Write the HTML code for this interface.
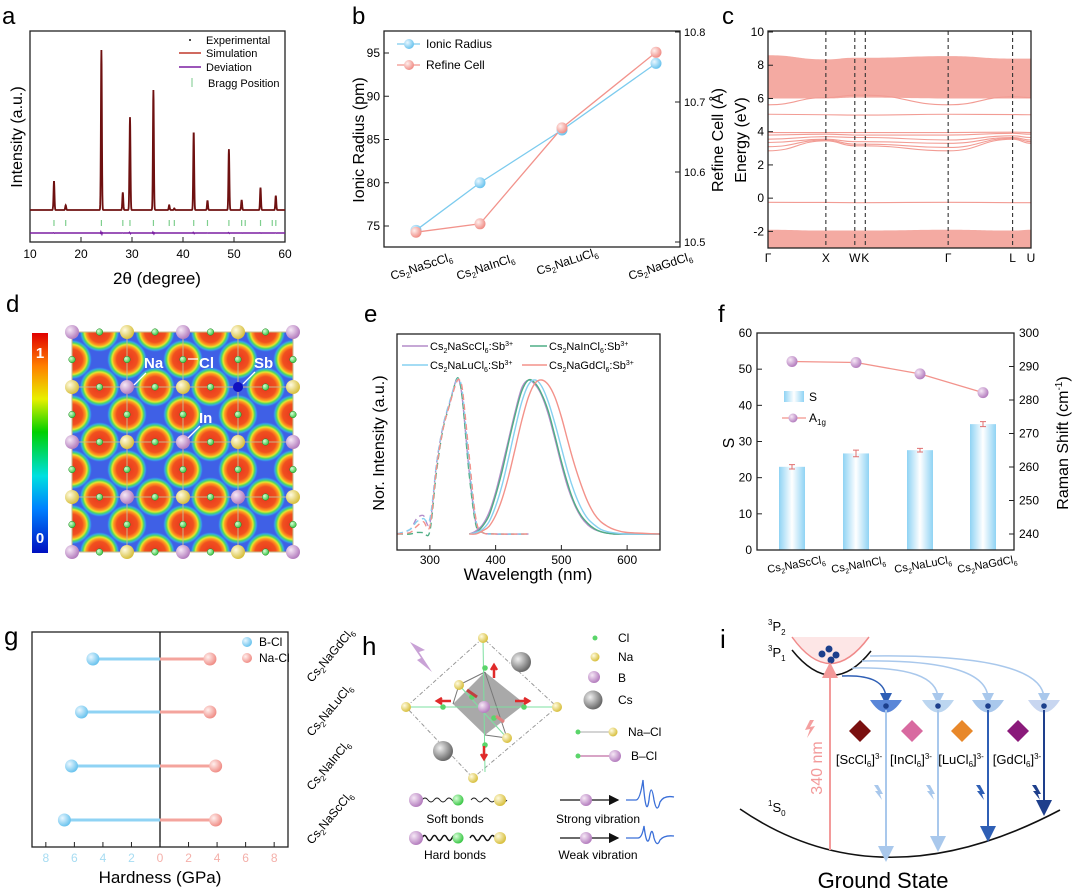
<!DOCTYPE html>
<html><head><meta charset="utf-8"><style>
html,body{margin:0;padding:0;background:#fff;}
svg{display:block;font-family:"Liberation Sans",Arial,sans-serif;}
</style></head><body>
<svg id="fig" xmlns="http://www.w3.org/2000/svg" width="1080" height="890" viewBox="0 0 1080 890">
<defs>
<radialGradient id="gBlue" cx="35%" cy="35%" r="65%"><stop offset="0" stop-color="#eaf7ff"/><stop offset="1" stop-color="#6cc4ee"/></radialGradient>
<radialGradient id="gPink" cx="35%" cy="35%" r="65%"><stop offset="0" stop-color="#fff0ee"/><stop offset="1" stop-color="#f08f88"/></radialGradient>
<radialGradient id="gPurp" cx="35%" cy="35%" r="65%"><stop offset="0" stop-color="#f6e8f6"/><stop offset="1" stop-color="#b57fbf"/></radialGradient>
<radialGradient id="gYel" cx="35%" cy="35%" r="65%"><stop offset="0" stop-color="#fffbe0"/><stop offset="1" stop-color="#d8c040"/></radialGradient>
<radialGradient id="gGrn" cx="35%" cy="35%" r="65%"><stop offset="0" stop-color="#d8ffd8"/><stop offset="1" stop-color="#3fc84a"/></radialGradient>
<radialGradient id="gGray" cx="35%" cy="35%" r="65%"><stop offset="0" stop-color="#f0f0f0"/><stop offset="1" stop-color="#6a6a6a"/></radialGradient>
<radialGradient id="gElf"><stop offset="0" stop-color="#e8351f"/><stop offset="0.45" stop-color="#f0501f"/><stop offset="0.58" stop-color="#ff9a20"/><stop offset="0.65" stop-color="#e0e830"/><stop offset="0.72" stop-color="#50d860"/><stop offset="0.8" stop-color="#30c8e8" stop-opacity="0.6"/><stop offset="0.88" stop-color="#3f60e6" stop-opacity="0"/></radialGradient>
<linearGradient id="cbar" x1="0" y1="1" x2="0" y2="0"><stop offset="0" stop-color="#0010c0"/><stop offset="0.2" stop-color="#0080ff"/><stop offset="0.35" stop-color="#00e0e0"/><stop offset="0.55" stop-color="#00d000"/><stop offset="0.7" stop-color="#e8f000"/><stop offset="0.85" stop-color="#ff8000"/><stop offset="1" stop-color="#e00000"/></linearGradient>
<linearGradient id="barG" x1="0" y1="0" x2="1" y2="0"><stop offset="0" stop-color="#8fd3f4"/><stop offset="0.5" stop-color="#ffffff"/><stop offset="1" stop-color="#8fd3f4"/></linearGradient>
<marker id="arB" markerWidth="8" markerHeight="8" refX="4" refY="4" orient="auto"><path d="M0,0 L8,4 L0,8 z" fill="context-stroke"/></marker>
<marker id="arK" markerWidth="8" markerHeight="8" refX="7" refY="4" orient="auto"><path d="M0,0 L8,4 L0,8 z" fill="#111"/></marker>
<clipPath id="clipC"><rect x="768" y="31" width="263" height="217"/></clipPath>
<clipPath id="clipD"><rect x="72" y="332" width="221" height="220"/></clipPath>
<clipPath id="clipE"><rect x="397" y="334" width="263" height="216"/></clipPath>
</defs>

<!-- ===== Panel a ===== -->
<g>
<text x="2" y="24" font-size="24">a</text>
<rect x="30" y="31" width="255" height="211" fill="none" stroke="#222" stroke-width="1.3"/>
<g id="aTicks"></g>
<text x="157" y="284" font-size="17" text-anchor="middle">2θ  (degree)</text>
<text transform="translate(22,137) rotate(-90)" font-size="16" text-anchor="middle">Intensity (a.u.)</text>
<g id="aPlot"></g>
<g font-size="11">
<circle cx="190" cy="40" r="1" fill="#111"/><text x="206" y="44">Experimental</text>
<line x1="179" y1="53" x2="201" y2="53" stroke="#c0392b" stroke-width="1.5"/><text x="206" y="57">Simulation</text>
<line x1="179" y1="67" x2="201" y2="67" stroke="#7b1fa2" stroke-width="1.5"/><text x="206" y="71">Deviation</text>
<line x1="192" y1="78" x2="192" y2="87" stroke="#8fd19e" stroke-width="1.2"/><text x="208" y="87">Bragg Position</text>
</g>
</g>

<!-- ===== Panel b ===== -->
<g>
<text x="352" y="24" font-size="24">b</text>
<rect x="384" y="31" width="296" height="216" fill="none" stroke="#222" stroke-width="1.3"/>
<g id="bAxes"></g>
<g id="bPlot"></g>
<text transform="translate(364,140) rotate(-90)" font-size="16" text-anchor="middle">Ionic Radius (pm)</text>
<text transform="translate(723,140) rotate(-90)" font-size="16" text-anchor="middle">Refine Cell (Å)</text>
<g font-size="12">
<line x1="397" y1="44" x2="420" y2="44" stroke="#7ccbee" stroke-width="1.3"/><circle cx="409" cy="44" r="5" fill="url(#gBlue)"/><text x="426" y="48">Ionic Radius</text>
<line x1="397" y1="65" x2="420" y2="65" stroke="#f2938c" stroke-width="1.3"/><circle cx="409" cy="65" r="5" fill="url(#gPink)"/><text x="426" y="69">Refine Cell</text>
</g>
</g>

<!-- ===== Panel c ===== -->
<g>
<text x="722" y="24" font-size="24">c</text>
<g id="cPlot" clip-path="url(#clipC)"></g>
<g id="cAxes"></g>
<rect x="768" y="31" width="263" height="217" fill="none" stroke="#222" stroke-width="1.3"/>
<text transform="translate(746,140) rotate(-90)" font-size="16" text-anchor="middle">Energy (eV)</text>
</g>

<!-- ===== Panel d ===== -->
<g>
<text x="6" y="312" font-size="24">d</text>
<rect x="32" y="333" width="16" height="220" fill="url(#cbar)"/>
<text x="40" y="358" font-size="15" font-weight="bold" fill="#fff" text-anchor="middle">1</text>
<text x="40" y="543" font-size="15" font-weight="bold" fill="#fff" text-anchor="middle">0</text>
<g id="dMap"></g>
</g>

<!-- ===== Panel e ===== -->
<g>
<text x="364" y="322" font-size="24">e</text>
<g id="ePlot" clip-path="url(#clipE)"></g>
<rect x="397" y="334" width="263" height="216" fill="none" stroke="#222" stroke-width="1.3"/>
<g id="eAxes"></g>
<text x="528" y="580" font-size="17" text-anchor="middle">Wavelength (nm)</text>
<text transform="translate(384,443) rotate(-90)" font-size="16" text-anchor="middle">Nor. Intensity (a.u.)</text>
<g font-size="11">
<line x1="402" y1="346" x2="428" y2="346" stroke="#b48cc9" stroke-width="1.5"/>
<text x="430" y="350">Cs<tspan font-size="7" dy="3">2</tspan><tspan dy="-3">NaScCl</tspan><tspan font-size="7" dy="3">6</tspan><tspan dy="-3">:Sb</tspan><tspan font-size="7" dy="-4">3+</tspan></text>
<line x1="530" y1="346" x2="547" y2="346" stroke="#4fae85" stroke-width="1.5"/>
<text x="549" y="350">Cs<tspan font-size="7" dy="3">2</tspan><tspan dy="-3">NaInCl</tspan><tspan font-size="7" dy="3">6</tspan><tspan dy="-3">:Sb</tspan><tspan font-size="7" dy="-4">3+</tspan></text>
<line x1="402" y1="365" x2="428" y2="365" stroke="#86d0f0" stroke-width="1.5"/>
<text x="430" y="369">Cs<tspan font-size="7" dy="3">2</tspan><tspan dy="-3">NaLuCl</tspan><tspan font-size="7" dy="3">6</tspan><tspan dy="-3">:Sb</tspan><tspan font-size="7" dy="-4">3+</tspan></text>
<line x1="522" y1="365" x2="547" y2="365" stroke="#f3928a" stroke-width="1.5"/>
<text x="549" y="369">Cs<tspan font-size="7" dy="3">2</tspan><tspan dy="-3">NaGdCl</tspan><tspan font-size="7" dy="3">6</tspan><tspan dy="-3">:Sb</tspan><tspan font-size="7" dy="-4">3+</tspan></text>
</g>
</g>

<!-- ===== Panel f ===== -->
<g>
<text x="718" y="322" font-size="24">f</text>
<g id="fPlot"></g>
<g id="fAxes"></g>
<text transform="translate(734,443) rotate(-90)" font-size="16" text-anchor="middle">S</text>
<text transform="translate(1068,443) rotate(-90)" font-size="16" text-anchor="middle">Raman Shift (cm<tspan font-size="10" dy="-6">-1</tspan><tspan dy="6">)</tspan></text>
<g font-size="12">
<rect x="784" y="391" width="20" height="11" fill="url(#barG)"/><text x="809" y="401">S</text>
<line x1="782" y1="418" x2="806" y2="418" stroke="#f2938c" stroke-width="1.2"/><circle cx="793" cy="418" r="4.5" fill="url(#gPurp)"/><text x="809" y="422">A<tspan font-size="8" dy="3">1g</tspan></text>
</g>
</g>

<!-- ===== Panel g ===== -->
<g>
<text x="4" y="645" font-size="26">g</text>
<rect x="32" y="632" width="256" height="215" fill="none" stroke="#222" stroke-width="1.3"/>
<g id="gAxes"></g>
<g id="gPlot"></g>
<text x="160" y="883" font-size="17" text-anchor="middle">Hardness (GPa)</text>
<g font-size="12">
<circle cx="247" cy="642" r="5" fill="url(#gBlue)"/><text x="259" y="646">B-Cl</text>
<circle cx="247" cy="658" r="5" fill="url(#gPink)"/><text x="259" y="662">Na-Cl</text>
</g>
</g>

<!-- ===== Panel h ===== -->
<g>
<text x="362" y="655" font-size="26">h</text>
<path d="M410,642 L425,650 L419,652 L432,672 L417,660 L421,658 Z" fill="#c9a2d6"/>
<g stroke-width="1">
<path d="M483,638 L406,707 L473,778 L557,707 Z" fill="none" stroke="#999" stroke-dasharray="4 2 1 2"/>
<path d="M453,704 L485,672 L525,704 L485,735 Z" fill="#8c8c8c" opacity="0.75"/>
<path d="M485,672 L459,685 L453,704 M485,672 L507,738 L485,735" fill="none" stroke="#777"/>
<line x1="483" y1="638" x2="485" y2="772" stroke="#7de0a0"/>
<line x1="406" y1="707" x2="557" y2="707" stroke="#7de0a0"/>
<line x1="459" y1="685" x2="507" y2="738" stroke="#7de0a0"/>
<circle cx="485" cy="668" r="2.8" fill="#5ad56a"/><circle cx="443" cy="707" r="2.8" fill="#5ad56a"/><circle cx="524" cy="707" r="2.8" fill="#5ad56a"/><circle cx="485" cy="745" r="2.8" fill="#5ad56a"/><circle cx="472" cy="697" r="2.8" fill="#5ad56a"/><circle cx="494" cy="718" r="2.8" fill="#5ad56a"/>
<circle cx="484" cy="707" r="6" fill="url(#gPurp)"/>
<circle cx="483" cy="638" r="5" fill="url(#gYel)"/><circle cx="406" cy="707" r="5" fill="url(#gYel)"/><circle cx="557" cy="707" r="5" fill="url(#gYel)"/><circle cx="473" cy="778" r="5" fill="url(#gYel)"/><circle cx="459" cy="685" r="5" fill="url(#gYel)"/><circle cx="507" cy="738" r="5" fill="url(#gYel)"/>
<circle cx="521" cy="662" r="10" fill="url(#gGray)"/><circle cx="443" cy="751" r="10" fill="url(#gGray)"/>
<path d="M494,678 l0,-12 m-3,4 l3,-5 l3,5" stroke="#e02a2a" stroke-width="2.5" fill="none"/>
<path d="M484,746 l0,12 m-3,-4 l3,5 l3,-5" stroke="#e02a2a" stroke-width="2.5" fill="none"/>
<path d="M451,701 l-13,0 m4,-3 l-5,3 l5,3" stroke="#e02a2a" stroke-width="2.5" fill="none"/>
<path d="M515,701 l13,0 m-4,-3 l5,3 l-5,3" stroke="#e02a2a" stroke-width="2.5" fill="none"/>
<path d="M477,697 l-10,-7" stroke="#c04040" stroke-width="3" fill="none"/>
<path d="M496,716 l8,6" stroke="#e08080" stroke-width="3" fill="none"/>
</g>
<g font-size="12">
<circle cx="595" cy="638" r="2.5" fill="#5ad56a"/><text x="618" y="642">Cl</text>
<circle cx="595" cy="657" r="4.5" fill="url(#gYel)"/><text x="618" y="661">Na</text>
<circle cx="594" cy="677" r="6" fill="url(#gPurp)"/><text x="618" y="682">B</text>
<circle cx="593" cy="700" r="9.5" fill="url(#gGray)"/><text x="618" y="704">Cs</text>
<line x1="578" y1="732" x2="613" y2="732" stroke="#aaa"/><circle cx="578" cy="732" r="2.5" fill="#5ad56a"/><circle cx="613" cy="732" r="4.5" fill="url(#gYel)"/><text x="628" y="736">Na–Cl</text>
<line x1="578" y1="756" x2="615" y2="756" stroke="#b24a8c"/><circle cx="578" cy="756" r="2.5" fill="#5ad56a"/><circle cx="615" cy="756" r="6" fill="url(#gPurp)"/><text x="631" y="760">B–Cl</text>
</g>
<g font-size="12">
<path d="M422,800 q3,-4 6,0 t6,0 t6,0 t6,0 t6,0 t6,0 M471,800 q3,-4 6,0 t6,0 t6,0 t6,0 t6,0 t6,0" stroke="#222" fill="none" stroke-width="0.9"/>
<circle cx="416" cy="800" r="7" fill="url(#gPurp)"/><circle cx="458" cy="800" r="5.5" fill="url(#gGrn)"/><circle cx="500" cy="800" r="6" fill="url(#gYel)"/>
<text x="455" y="823" text-anchor="middle">Soft bonds</text>
<path d="M422,838 q2.5,-5 5,0 t5,0 t5,0 t5,0 t5,0 t5,0 t5,0 M470,838 q2.5,-5 5,0 t5,0 t5,0 t5,0 t5,0 t5,0 t5,0" stroke="#111" fill="none" stroke-width="1.4"/>
<circle cx="416" cy="838" r="7" fill="url(#gPurp)"/><circle cx="458" cy="838" r="5.5" fill="url(#gGrn)"/><circle cx="500" cy="838" r="6" fill="url(#gYel)"/>
<text x="455" y="859" text-anchor="middle">Hard bonds</text>
<line x1="560" y1="800" x2="618" y2="800" stroke="#111" stroke-width="1.3" marker-end="url(#arK)"/><circle cx="586" cy="800" r="6" fill="url(#gPurp)"/>
<path d="M626,800 L636,800 Q640,800 643,780 Q646,820 649,800 Q651,780 654,800 Q657,815 660,802 Q664,795 674,797" stroke="#3a6fd8" fill="none" stroke-width="1.3"/>
<text x="598" y="823" text-anchor="middle">Strong vibration</text>
<line x1="560" y1="838" x2="618" y2="838" stroke="#111" stroke-width="1.3" marker-end="url(#arK)"/><circle cx="586" cy="838" r="6" fill="url(#gPurp)"/>
<path d="M626,838 L638,838 Q642,838 644,826 Q647,850 650,836 Q652,826 654,838 Q657,848 660,840 Q664,835 674,836" stroke="#3a6fd8" fill="none" stroke-width="1.3"/>
<text x="598" y="859" text-anchor="middle">Weak vibration</text>
</g>
</g>

<!-- ===== Panel i ===== -->
<g>
<text x="720" y="648" font-size="26">i</text>
<text x="768" y="631" font-size="13"><tspan font-size="8" dy="-6">3</tspan><tspan dy="6">P</tspan><tspan font-size="8" dy="4">2</tspan></text>
<text x="768" y="657" font-size="13"><tspan font-size="8" dy="-6">3</tspan><tspan dy="6">P</tspan><tspan font-size="8" dy="4">1</tspan></text>
<text x="768" y="812" font-size="13"><tspan font-size="8" dy="-6">1</tspan><tspan dy="6">S</tspan><tspan font-size="8" dy="4">0</tspan></text>
<path d="M792,637 Q830,690 869,637 Z" fill="#fbd6d6" opacity="0.6"/>
<path d="M792,637 Q830,690 869,637" fill="none" stroke="#f08a8a" stroke-width="1.5"/>
<path d="M792,650 Q832,700 871,651" fill="none" stroke="#111" stroke-width="1.5"/>
<g fill="#1c3f8c"><circle cx="829" cy="649" r="3.5"/><circle cx="822" cy="654" r="3.5"/><circle cx="836" cy="655" r="3.5"/><circle cx="831" cy="660" r="3.5"/></g>
<path d="M740,809 Q880,905 1060,810" fill="none" stroke="#111" stroke-width="1.6"/>
<line x1="830" y1="850" x2="830" y2="670" stroke="#f39a9a" stroke-width="2" marker-end="url(#arB)"/>
<text transform="translate(822,768) rotate(-90)" font-size="16" fill="#f39a9a" text-anchor="middle">340 nm</text>
<path d="M810,720 l-5,10 l5,-1 l-3,9 l8,-12 l-5,1 l4,-7 z" fill="#f4a0a0"/>
<g id="iTraps"></g>
<text x="883" y="888" font-size="22" text-anchor="middle">Ground State</text>
</g>

<!-- category labels for panel b, f, g -->
<g font-size="11">
<text transform="translate(392,280) rotate(-18)" font-size="12">Cs<tspan font-size="8" dy="3">2</tspan><tspan dy="-3">NaScCl</tspan><tspan font-size="8" dy="3">6</tspan></text>
<text transform="translate(458,280) rotate(-18)" font-size="12">Cs<tspan font-size="8" dy="3">2</tspan><tspan dy="-3">NaInCl</tspan><tspan font-size="8" dy="3">6</tspan></text>
<text transform="translate(538,275) rotate(-18)" font-size="12">Cs<tspan font-size="8" dy="3">2</tspan><tspan dy="-3">NaLuCl</tspan><tspan font-size="8" dy="3">6</tspan></text>
<text transform="translate(630,280) rotate(-18)" font-size="12">Cs<tspan font-size="8" dy="3">2</tspan><tspan dy="-3">NaGdCl</tspan><tspan font-size="8" dy="3">6</tspan></text>
<text transform="translate(768,573) rotate(-10)">Cs<tspan font-size="7" dy="3">2</tspan><tspan dy="-3">NaScCl</tspan><tspan font-size="7" dy="3">6</tspan></text>
<text transform="translate(832,573) rotate(-10)">Cs<tspan font-size="7" dy="3">2</tspan><tspan dy="-3">NaInCl</tspan><tspan font-size="7" dy="3">6</tspan></text>
<text transform="translate(895,573) rotate(-10)">Cs<tspan font-size="7" dy="3">2</tspan><tspan dy="-3">NaLuCl</tspan><tspan font-size="7" dy="3">6</tspan></text>
<text transform="translate(958,573) rotate(-10)">Cs<tspan font-size="7" dy="3">2</tspan><tspan dy="-3">NaGdCl</tspan><tspan font-size="7" dy="3">6</tspan></text>
<text transform="translate(312,683) rotate(-50)" font-size="12">Cs<tspan font-size="8" dy="3">2</tspan><tspan dy="-3">NaGdCl</tspan><tspan font-size="8" dy="3">6</tspan></text>
<text transform="translate(312,737) rotate(-50)" font-size="12">Cs<tspan font-size="8" dy="3">2</tspan><tspan dy="-3">NaLuCl</tspan><tspan font-size="8" dy="3">6</tspan></text>
<text transform="translate(312,791) rotate(-50)" font-size="12">Cs<tspan font-size="8" dy="3">2</tspan><tspan dy="-3">NaInCl</tspan><tspan font-size="8" dy="3">6</tspan></text>
<text transform="translate(312,845) rotate(-50)" font-size="12">Cs<tspan font-size="8" dy="3">2</tspan><tspan dy="-3">NaScCl</tspan><tspan font-size="8" dy="3">6</tspan></text>
</g>
</svg>
<script>
// ---- data ----
const aPeakPos = [14.7,17,24,28.2,29.6,34.2,37.3,38.3,42.1,44.8,49,51.5,55.2,58.2];
const aPeakInt = [18,3,100,11,58,75,3,1,49,6,38,6,14,9];
const aBragg = [14.7,17,24,28.2,29.6,34.2,37.3,38.3,42.1,44.8,49,51.5,52.2,55.2,57.5,58.2];
const aXTicks = [10,20,30,40,50,60];

const bCats = ['Sc','In','Lu','Gd'];
const bIonic = [74.5,80,86.1,93.8];
const bRefine = [10.514,10.526,10.663,10.771];
const bLeftTicks = [75,80,85,90,95];
const bRightTicks = [10.5,10.6,10.7,10.8];

const cKLabels = ['Γ','X','W','K','Γ','L','U'];
const cKPos = [0,0.22,0.33,0.37,0.685,0.93,1.0];
const cYTicks = [-2,0,2,4,6,8,10];
const cBands = [
 [5.62,6.05,6.2,6.2,5.62,6.1,6.05],
 [5.05,5.02,5.0,5.0,5.05,5.03,5.02],
 [2.85,3.45,3.15,3.15,2.85,3.55,3.3],
 [3.1,3.5,3.25,3.25,3.05,3.6,3.4],
 [3.35,3.55,3.4,3.4,3.3,3.65,3.5],
 [3.55,3.7,3.65,3.65,3.5,3.75,3.65],
 [3.8,3.85,3.8,3.8,3.8,3.9,3.85],
 [3.95,3.95,3.95,3.95,3.95,3.97,3.95],
 [-0.25,-0.26,-0.27,-0.27,-0.25,-0.27,-0.27]];
const cCondTop = [8.6,8.35,8.45,8.45,8.55,8.4,8.4];
const cCondBot = [6.0,6.0,6.05,6.05,6.0,6.0,6.0];
const cValTop = [-1.9,-1.95,-1.95,-1.95,-1.9,-1.95,-1.9];

const eWl = [360,370,380,390,400,410,420,430,440,450,460,470,480,490,500,510,520,530,540,550,560,570,580,600,650];
const eEmSc = [0,0.02,0.06,0.14,0.27,0.44,0.62,0.8,0.95,1.0,0.97,0.9,0.78,0.62,0.45,0.3,0.19,0.11,0.06,0.03,0.015,0.005,0,0,0];
const eEmIn = [0,0.01,0.05,0.12,0.25,0.41,0.6,0.78,0.93,1.0,0.98,0.91,0.8,0.64,0.47,0.32,0.2,0.12,0.07,0.035,0.015,0.005,0,0,0];
const eEmLu = [0,0.01,0.03,0.08,0.18,0.32,0.5,0.69,0.86,0.97,1.0,0.96,0.86,0.72,0.56,0.4,0.27,0.17,0.1,0.06,0.03,0.015,0.008,0,0];
const eEmGd = [0,0,0.02,0.05,0.12,0.23,0.38,0.56,0.74,0.89,0.98,1.0,0.97,0.89,0.76,0.6,0.45,0.32,0.21,0.13,0.08,0.05,0.03,0.01,0];
const eExWl = [250,270,280,290,300,310,320,330,340,345,350,360,370,380,400,450];
const eExSc = [0,0.03,0.1,0.12,0.07,0.45,0.7,0.85,1.0,0.99,0.85,0.4,0.07,0.01,0,0];
const eExIn = [0,0.0,0.01,0.01,0.02,0.4,0.68,0.84,1.0,0.99,0.85,0.38,0.06,0.01,0,0];
const eExLu = [0,0.03,0.08,0.1,0.1,0.45,0.7,0.86,0.99,1.0,0.9,0.45,0.09,0.01,0,0];
const eExGd = [0,0.01,0.05,0.08,0.05,0.42,0.68,0.84,0.98,1.0,0.92,0.5,0.1,0.01,0,0];
const eXTicks = [300,400,500,600];

const fS = [23,26.7,27.6,34.8];
const fSErr = [0.6,0.9,0.5,0.7];
const fA1g = [291.5,291.2,287.8,282.2];
const fLeftTicks = [0,10,20,30,40,50,60];
const fRightTicks = [240,250,260,270,280,290,300];

const gBCl = [4.7,5.5,6.2,6.7];
const gNaCl = [3.5,3.5,3.9,3.9];
const gTicks = [8,6,4,2,0,2,4,6,8];

const NS='http://www.w3.org/2000/svg';
function mk(tag, at, parent){const e=document.createElementNS(NS,tag);for(const k in at)e.setAttribute(k,at[k]);(parent||document.getElementById('fig')).appendChild(e);return e;}
function lin(d0,d1,r0,r1){return v=>r0+(v-d0)/(d1-d0)*(r1-r0);}
function smoothPath(pts){let d='M'+pts[0][0]+','+pts[0][1];for(let i=1;i<pts.length;i++){const p0=pts[i-1],p1=pts[i];const mx=(p0[0]+p1[0])/2;d+=' C'+mx+','+p0[1]+' '+mx+','+p1[1]+' '+p1[0]+','+p1[1];}return d;}
function catmull(pts){let d='M'+pts[0][0].toFixed(1)+','+pts[0][1].toFixed(1);for(let i=0;i<pts.length-1;i++){const p0=pts[Math.max(0,i-1)],p1=pts[i],p2=pts[i+1],p3=pts[Math.min(pts.length-1,i+2)];const c1=[p1[0]+(p2[0]-p0[0])/6,p1[1]+(p2[1]-p0[1])/6],c2=[p2[0]-(p3[0]-p1[0])/6,p2[1]-(p3[1]-p1[1])/6];d+=` C${c1[0].toFixed(1)},${c1[1].toFixed(1)} ${c2[0].toFixed(1)},${c2[1].toFixed(1)} ${p2[0].toFixed(1)},${p2[1].toFixed(1)}`;}return d;}

// ---- Panel a ----
(function(){
 const g=document.getElementById('aPlot'), t=document.getElementById('aTicks');
 const X=lin(10,60,30,285), Y=v=>210-v*1.6;
 aXTicks.forEach(v=>{mk('line',{x1:X(v),y1:242,x2:X(v),y2:237,stroke:'#222'},t);const tx=mk('text',{x:X(v),y:258,'font-size':12,'text-anchor':'middle'},t);tx.textContent=v;});
 let pts=[];for(let x=10;x<=60.001;x+=0.04){let s=0;aPeakPos.forEach((p,i)=>{s+=aPeakInt[i]*Math.exp(-Math.pow((x-p)/0.13,2));});pts.push([X(x),Y(s)]);}
 const sim=mk('path',{d:'M'+pts.map(p=>p[0].toFixed(1)+','+p[1].toFixed(1)).join(' L'),fill:'none',stroke:'#6e1010','stroke-width':1.8},g);
 
 
 aBragg.forEach(p=>{const l=mk('line',{x1:X(p),y1:220,x2:X(p),y2:226,stroke:'#7fcf8e','stroke-width':1.2},g);
  
  });
 let dp=[];for(let x=10;x<=60.001;x+=0.1){let s=0;aPeakPos.forEach((p,i)=>{s+=aPeakInt[i]*0.02*Math.sin((x-p)*20)*Math.exp(-Math.pow((x-p)/0.15,2));});dp.push([X(x),233+s]);}
 const dv=mk('path',{d:'M'+dp.map(p=>p[0].toFixed(1)+','+p[1].toFixed(1)).join(' L'),fill:'none',stroke:'#7b1fa2','stroke-width':1.4},g);
 
 
})();

// ---- Panel b ----
(function(){
 const g=document.getElementById('bPlot'), ax=document.getElementById('bAxes');
 const xs=[416,480,562,656];
 const YL=lin(75,95,226,53), YR=lin(10.5,10.8,242,32);
 bLeftTicks.forEach(v=>{mk('line',{x1:384,y1:YL(v),x2:389,y2:YL(v),stroke:'#222'},ax);const t=mk('text',{x:380,y:YL(v)+4,'font-size':12,'text-anchor':'end'},ax);t.textContent=v;});
 bRightTicks.forEach(v=>{mk('line',{x1:680,y1:YR(v),x2:675,y2:YR(v),stroke:'#222'},ax);const t=mk('text',{x:684,y:YR(v)+4,'font-size':11},ax);t.textContent=v.toFixed(1);});
 const l1=mk('polyline',{points:bIonic.map((v,i)=>xs[i]+','+YL(v)).join(' '),fill:'none',stroke:'#7ccbee','stroke-width':1.3},g);
 
 
 const l2=mk('polyline',{points:bRefine.map((v,i)=>xs[i]+','+YR(v)).join(' '),fill:'none',stroke:'#f2938c','stroke-width':1.3},g);
 
 
 bIonic.forEach((v,i)=>{const c=mk('circle',{cx:xs[i],cy:YL(v),r:5.5,fill:'url(#gBlue)'},g);
  
  });
 bRefine.forEach((v,i)=>{const c=mk('circle',{cx:xs[i],cy:YR(v),r:5.5,fill:'url(#gPink)'},g);
  
  });
})();

// ---- Panel c ----
(function(){
 const g=document.getElementById('cPlot'), ax=document.getElementById('cAxes');
 const X=lin(0,1,768,1031), Y=lin(10,-3,32,248);
 cYTicks.forEach(v=>{mk('line',{x1:768,y1:Y(v),x2:773,y2:Y(v),stroke:'#222'},ax);const t=mk('text',{x:764,y:Y(v)+4,'font-size':12,'text-anchor':'end'},ax);t.textContent=v;});
 cKPos.forEach((k,i)=>{const t=mk('text',{x:X(k),y:262,'font-size':12,'text-anchor':'middle'},ax);t.textContent=cKLabels[i];
  if(i>0&&i<cKPos.length-1){const l=mk('line',{x1:X(k),y1:31,x2:X(k),y2:248,stroke:'#333','stroke-dasharray':'4 3','stroke-width':1.1},ax);
   
   }});
 const top=cKPos.map((k,i)=>[X(k),Y(cCondTop[i])]), bot=cKPos.map((k,i)=>[X(k),Y(cCondBot[i])]).reverse();
 const cb=mk('path',{d:smoothPath(top)+' L'+smoothPath(bot).slice(1)+' Z',fill:'#f4aaa2'},g);
 
 
 const vt=cKPos.map((k,i)=>[X(k),Y(cValTop[i])]);
 const vb=mk('path',{d:smoothPath(vt)+' L1031,260 L768,260 Z',fill:'#f4aaa2'},g);
 
 
 cBands.forEach(b=>{const p=mk('path',{d:smoothPath(cKPos.map((k,i)=>[X(k),Y(b[i])])),fill:'none',stroke:'#f29c94','stroke-width':1.1},g);
  
  });
})();

// ---- Panel d ----
(function(){
 const g=document.getElementById('dMap');
 const gx=[72,127,183,238,293], gy=[332,387,442,497,552];
 const inner=mk('g',{'clip-path':'url(#clipD)'},g);
 const bg=mk('rect',{x:72,y:332,width:221,height:220,fill:'#3f60e6'},inner);
 
 
 const cl=[];
 for(let j=0;j<5;j++)for(let i=0;i<4;i++){cl.push([(gx[i]+gx[i+1])/2,gy[j]]);}
 for(let j=0;j<4;j++)for(let i=0;i<5;i++){cl.push([gx[i],(gy[j]+gy[j+1])/2]);}
 cl.forEach(p=>{const e=mk('ellipse',{cx:p[0],cy:p[1],rx:23,ry:23,fill:'url(#gElf)'},inner);
  
  });
 gx.forEach(x=>mk('line',{x1:x,y1:332,x2:x,y2:552,stroke:'#c8b88a','stroke-width':1},g));
 gy.forEach(y=>mk('line',{x1:72,y1:y,x2:293,y2:y,stroke:'#c8b88a','stroke-width':1},g));
 cl.forEach(p=>{const c=mk('circle',{cx:p[0],cy:p[1],r:3.3,fill:'url(#gGrn)',stroke:'#2a8a2a','stroke-width':0.5},g);
  
  });
 for(let j=0;j<5;j++)for(let i=0;i<5;i++){const sb=(i===3&&j===1);
  const c=mk('circle',{cx:gx[i],cy:gy[j],r:sb?5:7,fill:sb?'#1010c0':((i+j)%2===0?'url(#gPurp)':'url(#gYel)')},g);
  
  }
 const lab=[['Na',144,368],['Cl',199,368],['Sb',254,368],['In',199,423]];
 lab.forEach(l=>{const t=mk('text',{x:l[1],y:l[2],'font-size':15,'font-weight':'bold',fill:'#fff'},g);t.textContent=l[0];
  
  });
 [[134,385,146,373],[188,359,198,359],[243,384,255,372],[188,438,200,426]].forEach(a=>mk('line',{x1:a[0],y1:a[1],x2:a[2],y2:a[3],stroke:'#fff','stroke-width':1.3},g));
})();

// ---- Panel e ----
(function(){
 const g=document.getElementById('ePlot'), ax=document.getElementById('eAxes');
 const X=lin(250,650,397,660), Y=lin(0,1,534,380);
 eXTicks.forEach(v=>{mk('line',{x1:X(v),y1:550,x2:X(v),y2:545,stroke:'#222'},ax);const t=mk('text',{x:X(v),y:564,'font-size':12,'text-anchor':'middle'},ax);t.textContent=v;});
 const cols=['#b48cc9','#4fae85','#86d0f0','#f3928a'];
 [eExSc,eExIn,eExLu,eExGd].forEach((s,k)=>{const p=mk('path',{d:catmull(eExWl.map((w,i)=>[X(w),Y(s[i])])),fill:'none',stroke:cols[k],'stroke-width':1.4,'stroke-dasharray':'6 4'},g);
  
  });
 [eEmSc,eEmIn,eEmLu,eEmGd].forEach((s,k)=>{const p=mk('path',{d:catmull(eWl.map((w,i)=>[X(w),Y(s[i])]))+' L'+X(700)+','+Y(0),fill:'none',stroke:cols[k],'stroke-width':1.4},g);
  
  });
})();

// ---- Panel f ----
(function(){
 const g=document.getElementById('fPlot'), ax=document.getElementById('fAxes');
 const xs=[792,856,920,983];
 const YL=lin(0,60,550,333), YR=lin(240,300,534,333);
 mk('rect',{x:757,y:333,width:257,height:217,fill:'none',stroke:'#222','stroke-width':1.3},ax);
 fLeftTicks.forEach(v=>{mk('line',{x1:757,y1:YL(v),x2:762,y2:YL(v),stroke:'#222'},ax);const t=mk('text',{x:752,y:YL(v)+4,'font-size':12,'text-anchor':'end'},ax);t.textContent=v;});
 fRightTicks.forEach(v=>{mk('line',{x1:1014,y1:YR(v),x2:1009,y2:YR(v),stroke:'#222'},ax);const t=mk('text',{x:1019,y:YR(v)+4,'font-size':12},ax);t.textContent=v;});
 fS.forEach((v,i)=>{const r=mk('rect',{x:xs[i]-13,y:YL(v),width:26,height:550-YL(v),fill:'url(#barG)'},g);
  
  
  const e=mk('path',{d:`M${xs[i]},${YL(v+fSErr[i])} V${YL(v-fSErr[i])} M${xs[i]-3},${YL(v+fSErr[i])} h6 M${xs[i]-3},${YL(v-fSErr[i])} h6`,stroke:'#e07070','stroke-width':1},g);
  
  });
 const l=mk('polyline',{points:fA1g.map((v,i)=>xs[i]+','+YR(v)).join(' '),fill:'none',stroke:'#f2938c','stroke-width':1.3},g);
 
 
 fA1g.forEach((v,i)=>{const c=mk('circle',{cx:xs[i],cy:YR(v),r:5.5,fill:'url(#gPurp)'},g);
  
  });
})();

// ---- Panel g ----
(function(){
 const g=document.getElementById('gPlot'), ax=document.getElementById('gAxes');
 const X0=160, k=14.27, ys=[659,712,766,820];
 mk('line',{x1:160,y1:632,x2:160,y2:847,stroke:'#111','stroke-width':1.3},ax);
 gTicks.forEach((v,i)=>{const x=X0+(i<4?-v:v)*k;mk('line',{x1:x,y1:847,x2:x,y2:842,stroke:'#222'},ax);const t=mk('text',{x:x,y:862,'font-size':12,'text-anchor':'middle',fill:i<4?'#a7dcf2':'#f4b0aa'},ax);t.textContent=v;});
 gBCl.forEach((v,i)=>{const l=mk('line',{x1:X0,y1:ys[i],x2:X0-v*k,y2:ys[i],stroke:'#8fd3f4','stroke-width':3},g);
  
  
  const c=mk('circle',{cx:X0-v*k,cy:ys[i],r:6.5,fill:'url(#gBlue)'},g);
  
  });
 gNaCl.forEach((v,i)=>{const l=mk('line',{x1:X0,y1:ys[i],x2:X0+v*k,y2:ys[i],stroke:'#f4a49d','stroke-width':3},g);
  
  
  const c=mk('circle',{cx:X0+v*k,cy:ys[i],r:6.5,fill:'url(#gPink)'},g);
  
  });
})();

// ---- Panel i traps ----
(function(){
 const g=document.getElementById('iTraps');
 const tx=[886,938,988,1044], gy=[858,848,838,812];
 const arrowCol=['#a9c8ec','#a9c8ec','#2f5fb5','#1e3f8c'];
 const trapCol=['#5a86d8','#bcd6f0','#a9c8ec','#c8d6f0'];
 const octCol=['#7a1010','#d86aa0','#e8882a','#8a1a7a'];
 const names=['ScCl','InCl','LuCl','GdCl'];
 const sx=[842,852,862,870], sy=[676,668,661,656];
 tx.forEach((x,i)=>{
  const a=mk('path',{d:`M${sx[i]},${sy[i]} Q${x},${sy[i]-2} ${x},${699}`,fill:'none',stroke:i==0?'#2f5fb5':'#a9c8ec','stroke-width':1.5,'marker-end':'url(#arB)'},g);
  
  
  const t=mk('path',{d:`M${x-16},${700} L${x+16},${700} Q${x},${725} ${x-16},${700} Z`,fill:trapCol[i]},g);
  
  
  mk('circle',{cx:x,cy:706,r:2.8,fill:'#1c3f8c'},g);
  const v=mk('line',{x1:x,y1:710,x2:x,y2:gy[i]-4,stroke:arrowCol[i],'stroke-width':2,'marker-end':'url(#arB)'},g);
  
  
  const ox=x-26, oy=731;
  const o=mk('path',{d:`M${ox},${oy-11} L${ox+11},${oy} L${ox},${oy+11} L${ox-11},${oy} Z`,fill:octCol[i]},g);
  
  
  const lt=mk('text',{x:ox-1,y:764,'font-size':13,'text-anchor':'middle'},g);
  
  
  lt.innerHTML='['+names[i]+'<tspan font-size="8" dy="3">6</tspan><tspan dy="-3">]</tspan><tspan font-size="8" dy="-5">3-</tspan>';
  const b=mk('path',{d:`M${x-12},${785} l4,6 l-3,0 l7,9 l-2,-6 l3,0 l-5,-9 z`,fill:arrowCol[i]},g);
  
  
 });
})();
</script>
</body></html>
